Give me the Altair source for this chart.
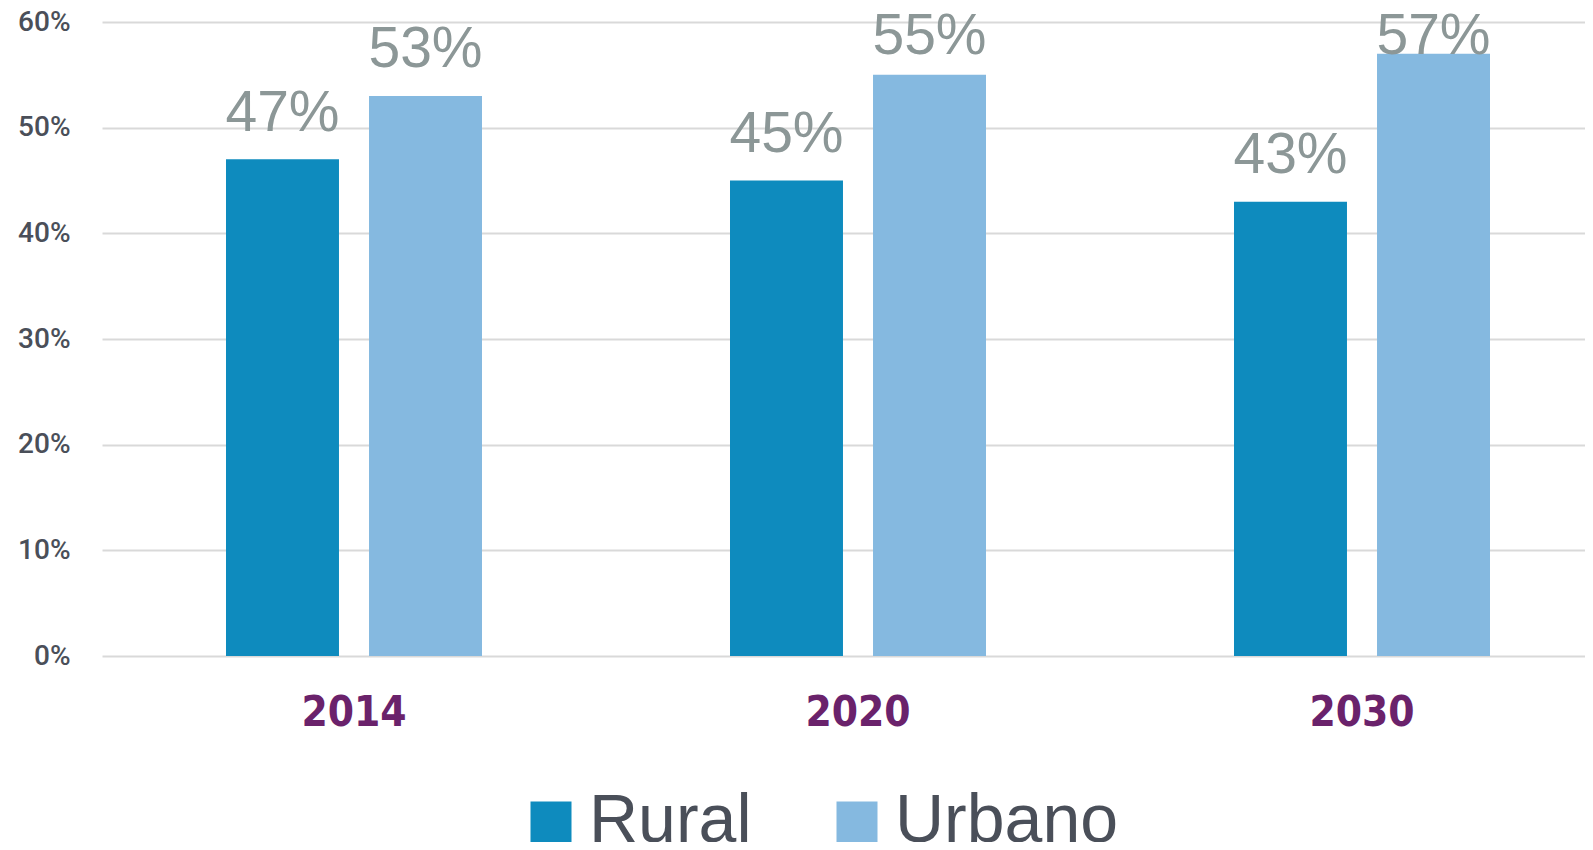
import altair as alt
import pandas as pd

years = ["2014", "2020", "2030"]
series = ["Rural", "Urbano"]
rural = [0.47, 0.45, 0.43]
urbano = [0.53, 0.55, 0.57]
colors = ["#0E8BBE", "#85B9E0"]
y_ticks = [0, 0.1, 0.2, 0.3, 0.4, 0.5, 0.6]

rows = []
for i, yr in enumerate(years):
    rows.append({"year": yr, "serie": series[0], "value": rural[i]})
    rows.append({"year": yr, "serie": series[1], "value": urbano[i]})
df = pd.DataFrame(rows)

W = 1483
H = 634

x_enc = alt.X(
    "year:N",
    sort=years,
    scale=alt.Scale(range=[0, 1512], paddingInner=0, paddingOuter=0),
    axis=alt.Axis(
        title=None, domain=False, ticks=False, labelAngle=0,
        labelFont="DejaVu Sans Condensed, DejaVu Sans, sans-serif",
        labelFontWeight="bold", labelFontSize=42, labelColor="#6A226B",
        labelPadding=36,
    ),
)
xoff = alt.XOffset("serie:N", sort=series,
                   scale=alt.Scale(paddingInner=0.21, paddingOuter=0.867))

color = alt.Color(
    "serie:N",
    scale=alt.Scale(domain=series, range=colors),
    legend=alt.Legend(
        orient="none", legendX=415, legendY=766, direction="horizontal",
        title=None, symbolType="square", symbolSize=1681, symbolStrokeWidth=0,
        labelFont="Liberation Sans", labelFontSize=68, labelColor="#4A4F59",
        labelOffset=4, columnPadding=71, labelLimit=0,
    ),
)

bars = alt.Chart(df).mark_bar().encode(
    x=x_enc,
    xOffset=xoff,
    y=alt.Y(
        "value:Q",
        scale=alt.Scale(domain=[0, 0.6], nice=False),
        axis=alt.Axis(
            values=y_ticks, format=".0%", title=None, grid=True,
            gridColor="#D9D9D9", gridWidth=2, domain=False, ticks=False,
            labelFont="Roboto", labelFontSize=28, labelFontWeight=500,
            labelColor="#4A4F59", labelPadding=32,
        ),
    ),
    color=color,
)

labels = alt.Chart(df).transform_calculate(
    label_y="min(datum.value + 0.0272, 0.570)"
).mark_text(
    font="Liberation Sans", fontSize=57, color="#8C9797", baseline="alphabetic"
).encode(
    x=alt.X("year:N", sort=years),
    xOffset=alt.XOffset("serie:N", sort=series),
    y=alt.Y("label_y:Q"),
    text=alt.Text("value:Q", format=".0%"),
)

chart = alt.layer(bars, labels).properties(
    width=W, height=H,
    autosize=alt.AutoSizeParams(type="none"),
    padding={"left": 94, "top": 14, "right": 0, "bottom": 186},
).configure_view(stroke=None)

chart.save("out.html", embed_options={"renderer": "svg", "actions": False})
